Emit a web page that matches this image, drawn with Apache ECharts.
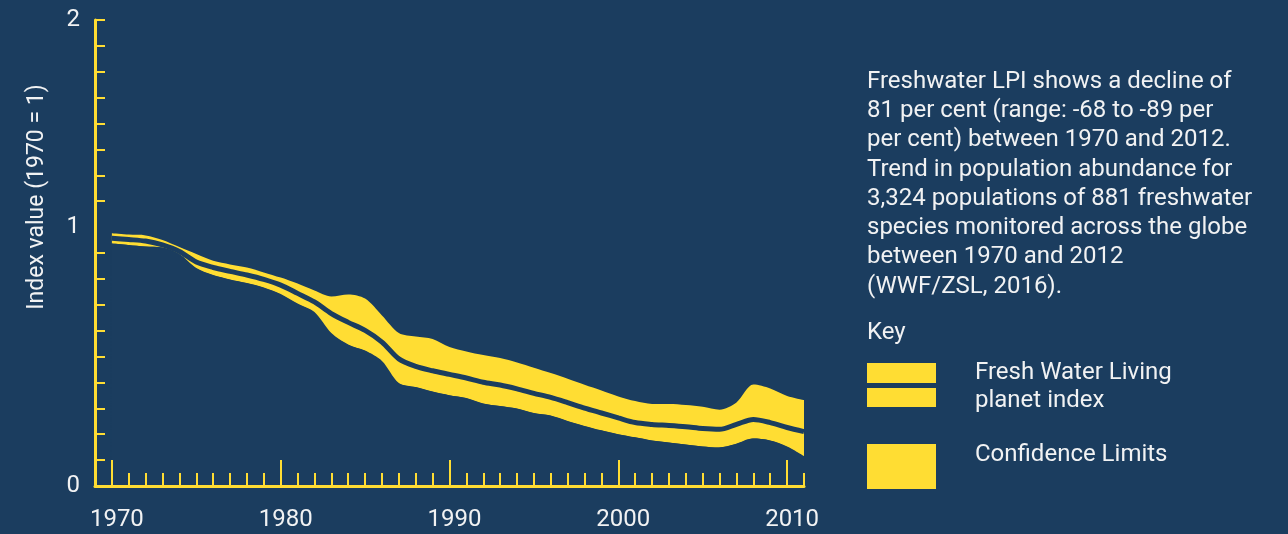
<!DOCTYPE html>
<html>
<head>
<meta charset="utf-8">
<title>Freshwater LPI</title>
<script src="https://cdn.jsdelivr.net/npm/echarts@6/dist/echarts.min.js"></script>
<style>
  html, body { margin: 0; padding: 0; background: #1b3d5f; }
  #chart { width: 1288px; height: 534px; }
</style>
</head>
<body>
<div id="chart"></div>
<script>
// values (index, 1970 = 1)
var years = [1970, 1971, 1972, 1973, 1974, 1975, 1976, 1977, 1978, 1979,
  1980, 1981, 1982, 1983, 1984, 1985, 1986, 1987, 1988, 1989,
  1990, 1991, 1992, 1993, 1994, 1995, 1996, 1997, 1998, 1999,
  2000, 2001, 2002, 2003, 2004, 2005, 2006, 2007, 2008, 2009,
  2010, 2011];
var indexValues = [0.957, 0.952, 0.946, 0.931, 0.906, 0.865, 0.844, 0.829, 0.815, 0.798,
  0.776, 0.744, 0.711, 0.666, 0.632, 0.601, 0.556, 0.491, 0.462, 0.445,
  0.431, 0.417, 0.401, 0.390, 0.375, 0.358, 0.342, 0.322, 0.301, 0.282,
  0.263, 0.245, 0.238, 0.234, 0.229, 0.222, 0.219, 0.238, 0.257, 0.245,
  0.226, 0.210];
var upperValues = [0.976, 0.971, 0.968, 0.950, 0.923, 0.896, 0.870, 0.856, 0.844, 0.825,
  0.805, 0.782, 0.755, 0.732, 0.740, 0.724, 0.659, 0.591, 0.577, 0.568,
  0.537, 0.520, 0.506, 0.494, 0.477, 0.457, 0.436, 0.414, 0.391, 0.369,
  0.346, 0.328, 0.317, 0.317, 0.313, 0.306, 0.295, 0.323, 0.392, 0.377,
  0.348, 0.332];
var lowerValues = [0.937, 0.931, 0.925, 0.921, 0.896, 0.842, 0.815, 0.798, 0.784, 0.767,
  0.742, 0.705, 0.672, 0.591, 0.547, 0.523, 0.483, 0.398, 0.382, 0.365,
  0.351, 0.340, 0.319, 0.309, 0.299, 0.282, 0.272, 0.251, 0.232, 0.215,
  0.200, 0.188, 0.176, 0.168, 0.160, 0.153, 0.149, 0.162, 0.183, 0.176,
  0.153, 0.116];

var decadeTicks = [1970, 1980, 1990, 2000, 2010];
var yTickValues = [0.1, 0.2, 0.3, 0.4, 0.5, 0.6, 0.7, 0.8, 0.9,
  1.1, 1.2, 1.3, 1.4, 1.5, 1.6, 1.7, 1.8];
var yLabelValues = [0, 1, 1.8];
var yLabelTexts = ['0', '1', '2'];

var noteText = 'Freshwater LPI shows a decline of\n81 per cent (range: -68 to -89 per\nper cent) between 1970 and 2012.\nTrend in population abundance for\n3,324 populations of 881 freshwater\nspecies monitored across the globe\nbetween 1970 and 2012\n(WWF/ZSL, 2016).';

var BG = '#1b3d5f';
var YELLOW = '#ffdd33';
var TEXT = '#f1f2f3';
var FONT = 'Roboto';

function pairs(vals) {
  return years.map(function (y, i) { return [y, vals[i]]; });
}

var chart = echarts.init(document.getElementById('chart'));

// stacking does not work on a value x axis here, so the band is the upper
// area in yellow with the lower area painted over it in the background colour
chart.setOption({
  backgroundColor: BG,
  animation: false,
  grid: { left: 95, right: 484, top: 20, bottom: 48 },
  xAxis: [
    {
      type: 'value',
      min: 1969,
      max: 2011,
      interval: 1,
      z: 5,
      axisLine: { show: true, onZero: false, lineStyle: { color: YELLOW, width: 3 } },
      axisTick: { show: true, inside: true, length: 13, lineStyle: { color: YELLOW, width: 2 } },
      axisLabel: { show: false },
      splitLine: { show: false }
    },
    {
      type: 'value',
      position: 'bottom',
      min: 1969,
      max: 2011,
      z: 5,
      axisLine: { show: false, onZero: false },
      axisTick: {
        show: true, inside: true, length: 26, customValues: decadeTicks,
        lineStyle: { color: YELLOW, width: 2 }
      },
      axisLabel: {
        customValues: decadeTicks,
        color: TEXT, fontFamily: FONT, fontSize: 24, margin: 22,
        padding: [0, 0, 0, 10],
        formatter: function (v) { return String(v); }
      },
      splitLine: { show: false }
    }
  ],
  yAxis: {
    type: 'value',
    min: 0,
    max: 1.8,
    z: 5,
    axisLine: { show: true, onZero: false, lineStyle: { color: YELLOW, width: 3 } },
    axisTick: {
      show: true, inside: true, length: 10, customValues: yTickValues,
      lineStyle: { color: YELLOW, width: 2 }
    },
    axisLabel: {
      customValues: yLabelValues,
      color: TEXT, fontFamily: FONT, fontSize: 24, margin: 15,
      formatter: function (v) {
        var i = yLabelValues.indexOf(v);
        return i >= 0 ? yLabelTexts[i] : '';
      }
    },
    splitLine: { show: false }
  },
  series: [
    {
      name: 'Confidence Limits',
      type: 'line',
      data: pairs(upperValues),
      smooth: 0.3,
      symbol: 'none',
      lineStyle: { width: 0, opacity: 0 },
      areaStyle: { color: YELLOW, opacity: 1 },
      silent: true
    },
    {
      name: 'lower',
      type: 'line',
      data: pairs(lowerValues),
      smooth: 0.3,
      symbol: 'none',
      lineStyle: { width: 0, opacity: 0 },
      // small shadow hides the anti-aliased seam at the left edge
      areaStyle: { color: BG, opacity: 1, shadowColor: BG, shadowBlur: 0, shadowOffsetX: -1 },
      silent: true
    },
    {
      name: 'Fresh Water Living planet index',
      type: 'line',
      data: pairs(indexValues),
      smooth: 0.3,
      symbol: 'none',
      lineStyle: { color: BG, width: 5 },
      silent: true
    }
  ],
  graphic: [
    {
      type: 'text',
      x: 37, y: 197,
      rotation: Math.PI / 2,
      style: {
        text: 'Index value (1970 = 1)',
        fill: TEXT, font: '23px ' + FONT,
        align: 'center', verticalAlign: 'middle'
      }
    },
    {
      type: 'text',
      x: 867, y: 67,
      style: {
        text: noteText,
        fill: TEXT, font: '24px ' + FONT, lineHeight: 29.3,
        align: 'left', verticalAlign: 'top'
      }
    },
    {
      type: 'text',
      x: 867, y: 333,
      style: { text: 'Key', fill: TEXT, font: '24px ' + FONT, verticalAlign: 'middle' }
    },
    { type: 'rect', shape: { x: 867, y: 363, width: 69, height: 20 }, style: { fill: YELLOW } },
    { type: 'rect', shape: { x: 867, y: 388, width: 69, height: 19 }, style: { fill: YELLOW } },
    {
      type: 'text',
      x: 975, y: 373,
      style: { text: 'Fresh Water Living', fill: TEXT, font: '24px ' + FONT, verticalAlign: 'middle' }
    },
    {
      type: 'text',
      x: 975, y: 401,
      style: { text: 'planet index', fill: TEXT, font: '24px ' + FONT, verticalAlign: 'middle' }
    },
    { type: 'rect', shape: { x: 867, y: 444, width: 69, height: 45 }, style: { fill: YELLOW } },
    {
      type: 'text',
      x: 975, y: 455,
      style: { text: 'Confidence Limits', fill: TEXT, font: '24px ' + FONT, verticalAlign: 'middle' }
    }
  ]
});
</script>
</body>
</html>
